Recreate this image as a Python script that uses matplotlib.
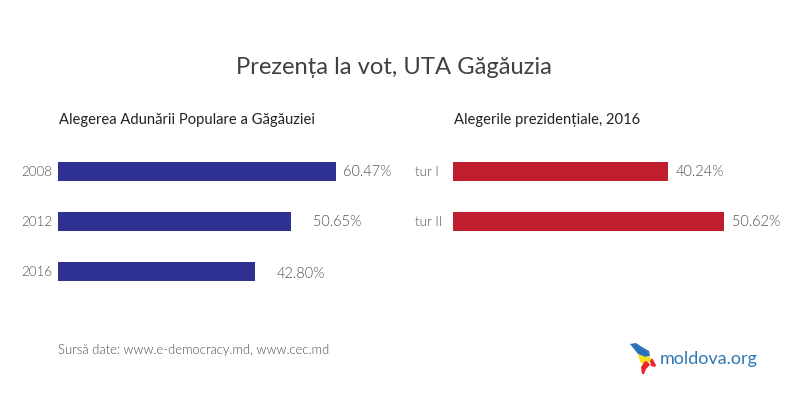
import matplotlib
matplotlib.use('Agg')
import matplotlib.pyplot as plt

W, H = 800, 400

# data
years = ['2008', '2012', '2016']
assembly_turnout = [60.47, 50.65, 42.80]
rounds = ['tur I', 'tur II']
presidential_turnout = [40.24, 50.62]

plt.rcParams['font.family'] = ['Lato', 'DejaVu Sans']

BLUE = '#2e3192'
RED = '#be1e2d'
GREY = '#4d4d4d'


def px_axes(fig, x0, x1, y0, y1):
    """Axes placed with pixel coordinates measured from the top left."""
    return fig.add_axes([x0 / W, 1 - y1 / H, (x1 - x0) / W, (y1 - y0) / H])


def turnout_panel(ax, labels, values, color, xmax, nudges, label_left):
    pos = list(range(len(values)))
    ax.barh(pos, values, height=0.37, color=color, linewidth=0)
    ax.set_xlim(0, xmax)
    ax.set_ylim(2.5, -0.5)
    ax.axis('off')
    for p, label, val, (dx, dy) in zip(pos, labels, values, nudges):
        ax.annotate(f'{val:.2f}%', (val, p), xytext=(dx, dy), textcoords='offset pixels',
                    va='center', ha='left', fontsize=10.45, color=GREY, fontweight=300)
        ax.annotate(label, (0, p), xytext=(-label_left, 0), textcoords='offset pixels',
                    va='center', ha='left', fontsize=9.6, color=GREY, fontweight=300)


fig = plt.figure(figsize=(W / 100, H / 100), dpi=100, facecolor='white')

ax1 = px_axes(fig, 58, 398, 146.5, 296.5)
turnout_panel(ax1, years, assembly_turnout, BLUE, 340 / 4.595,
              [(7, 0), (22, -1), (22, -2)], 37)

ax2 = px_axes(fig, 453, 795, 146.5, 296.5)
turnout_panel(ax2, rounds, presidential_turnout, RED, 342 / 5.345,
              [(8, 0), (8, -1)], 38)

fig.text(394 / W, 1 - 67 / H, 'Prezența la vot, UTA Găgăuzia', ha='center', va='center',
         fontsize=17.1, color='#404040')
fig.text(59 / W, 1 - 120 / H, 'Alegerea Adunării Populare a Găgăuziei', ha='left', va='center',
         fontsize=10.65, color='#222222')
fig.text(454 / W, 1 - 120 / H, 'Alegerile prezidențiale, 2016', ha='left', va='center',
         fontsize=10.65, color='#222222')
fig.text(58 / W, 1 - 350 / H, 'Sursă date: www.e-democracy.md, www.cec.md', ha='left', va='center',
         fontsize=9.35, color=GREY, fontweight=300)

# logo: map of Moldova in three colour bands plus wordmark
logo = px_axes(fig, 0, W, 0, H)
logo.set_xlim(0, W)
logo.set_ylim(H, 0)
logo.axis('off')
logo.patch.set_alpha(0)
logo.fill([630, 636, 642, 649, 650, 645, 638, 634], [344, 343, 347, 351, 356, 357, 354, 349], color='#2a72b5', lw=0)
logo.fill([638, 645, 650, 651, 648, 645, 643, 640], [354, 357, 356, 362, 362, 361, 364, 362], color='#f7e017', lw=0)
logo.fill([641, 645, 648, 650, 646, 644, 642], [367, 361, 362, 365, 369, 374, 374], color='#e8262a', lw=0)
logo.fill([650, 652, 656, 655, 651], [361, 358, 365, 367, 366], color='#e8262a', lw=0)
logo.text(660, 359, 'moldova.org', ha='left', va='center', fontsize=13, color='#2f76b5')

fig.savefig('out.png', dpi=100)
